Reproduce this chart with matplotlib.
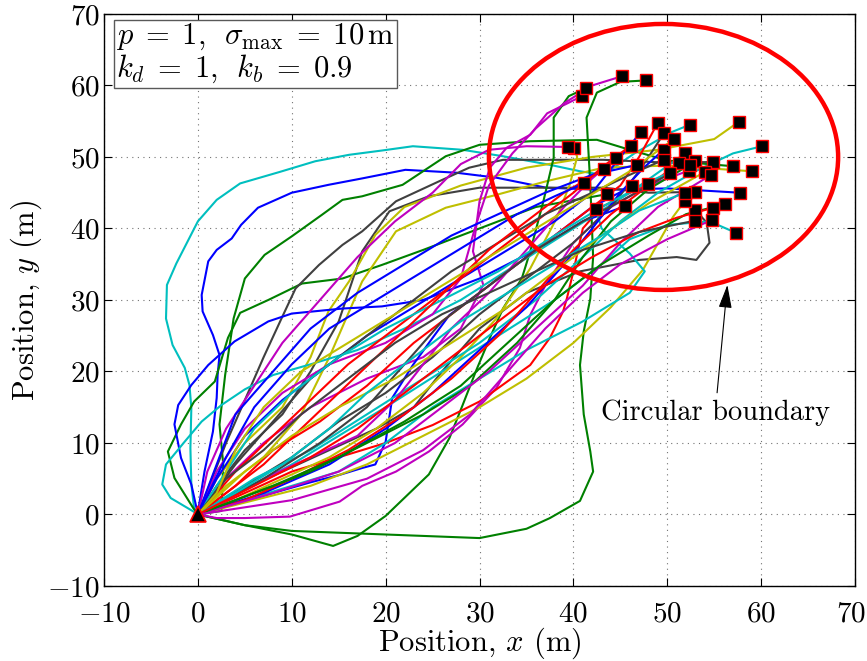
import matplotlib
matplotlib.use("Agg")
import matplotlib.pyplot as plt
import matplotlib.transforms as mtransforms
from matplotlib.patches import Circle

plt.rcParams["font.family"] = "serif"
plt.rcParams["font.serif"] = ["cmr10", "DejaVu Serif"]
plt.rcParams["mathtext.fontset"] = "cm"
plt.rcParams["axes.formatter.use_mathtext"] = True

# MATLAB-style line colours
B = (0, 0, 1)
G = (0, 0.5, 0)
R = (1, 0, 0)
C = (0, 0.75, 0.75)
M = (0.75, 0, 0.75)
Y = (0.75, 0.75, 0)
K = (0.25, 0.25, 0.25)

# Agent trajectories (x, y) in metres, all starting at the launch point
path_01 = [(0, 0), (-0.4, 0.8), (-0.7, 4.2), (-0.8, 9.3), (-0.7, 14.9), (-0.9, 18.1), (-1.4, 20.5), (-2.7, 23.7),
           (-3.4, 27.4), (-3.3, 32.1), (-2.3, 35.1), (0, 41), (2, 44), (4.5, 46.3), (8.7, 47.9), (12.5, 49.4),
           (16.1, 50.3), (19.6, 50.9), (22.9, 51.5), (28.2, 51), (32.5, 50.1), (37.5, 48.9), (40.7, 48),
           (43.2, 47.5), (46.5, 50.5), (50.5, 53.5), (52.4, 54.5)]
path_02 = [(0, 0), (0, 0.3), (0.7, 6), (1.6, 11.6), (2, 16.3), (2.1, 19.5), (2.3, 22.3), (1.6, 25.1), (0.5, 28.4),
           (0.4, 30.7), (1.1, 35.4), (2, 37), (3.6, 38.6), (4.6, 40.5), (6.4, 42.9), (10, 45), (13.9, 46.1),
           (17.5, 47), (22.1, 48.2), (27.5, 47.8), (31.8, 47.1), (37.1, 45.7), (43.2, 45.4), (50, 45.6), (57.7, 45.0)]
path_03 = [(0, 0), (-0.5, 0.9), (-2.5, 5.1), (-3.2, 8.8), (-1.8, 12.6), (-0.4, 15.8), (1.8, 18.6), (3.2, 24.7),
           (4.5, 28.2), (7.5, 30), (11.1, 32.3), (15.4, 33), (19.6, 34.9), (24, 37), (30, 40), (36, 43), (43.6, 44.8)]
path_04 = [(0, 0), (2.5, 0.5), (2.7, 7), (2.3, 12.6), (2.9, 19.5), (3.6, 25.6), (3.8, 27.4), (5, 33), (7.1, 36.3),
           (10, 38.9), (13.2, 41.9), (15.4, 44), (17.5, 44.5), (21.8, 46.1), (26.4, 50.1), (30, 51.7),
           (35.4, 52.2), (42.5, 52.4), (46, 51), (50, 49.5), (57.0, 48.7)]
path_05 = [(0, 0), (1.5, 5), (3, 10), (5, 16), (7, 22), (8.9, 27.4), (10.4, 31.6), (12.9, 34.9), (15.4, 37.7),
           (17.5, 39.6), (21.1, 43.8), (25.7, 46.6), (28.9, 48.5), (32.5, 49.6), (43.2, 49.6), (50, 49.2), (54.9, 49.3)]
path_06 = [(0, 0), (2, 4), (5, 9), (9, 14), (12, 20), (15, 27), (17.5, 36.8), (20.4, 42.4), (24.6, 44.5),
           (30, 45.7), (35.4, 45.7), (43.2, 45.7), (48, 45), (52.9, 45.1)]
path_07 = [(0, 0), (2, 5), (5, 10), (9, 15), (12, 22), (13.9, 28.4), (16.1, 32.6), (18.9, 39.1), (22, 43),
           (28, 46), (35, 48.5), (42, 50), (49, 51), (55, 52.5), (57.6, 54.9)]
path_08 = [(0, 0), (3, 4), (7, 8), (11, 14), (14, 22), (17.5, 32.6), (21.1, 39.6), (26.4, 42.9), (31.8, 44.7),
           (37.1, 46.6), (43.2, 48.5), (50, 48.8), (59.0, 48.0)]
path_09 = [(0, 0), (3, 5), (7, 10), (12, 15), (18, 19), (24, 22), (28, 26), (30.4, 32.1), (29.3, 36.8),
           (30, 43.8), (31.1, 48.5), (32.9, 51.3), (35.4, 53.1), (37.2, 56.1), (40.9, 58.5)]
path_10 = [(0, 0), (5, -1.5), (10, -2.8), (14.4, -4.4), (17, -3), (20, -0.2), (24.6, 5.6), (26.8, 10.7),
           (28.2, 15.3), (29.6, 20), (31.1, 24.7), (32.5, 28.8), (34.5, 33), (35.4, 36.8), (36.8, 43.8),
           (37.9, 49.9), (37.9, 55.5), (39.5, 58.5), (41.3, 59.6)]
path_11 = [(0, 0), (5, -1.5), (10, -2.3), (20, -2.8), (30, -3.3), (35, -2), (37.5, -0.5), (40.7, 1.9), (42.1, 6),
           (41.8, 8.8), (41.1, 14), (40.7, 20.9), (41.1, 25.6), (41.8, 30.2), (42.1, 36), (41.8, 46.1),
           (41.4, 55.5), (42.5, 59), (45, 60.5), (47.7, 60.7)]
path_12 = [(0, 0), (2, -0.5), (5, -0.5), (9.8, -0.3), (15.1, 1.8), (17.5, 4), (21.1, 6), (24.6, 8.8), (28.2, 12.6),
           (31.8, 17.7), (34.3, 23.3), (35.4, 27.9), (37, 32), (40, 38), (44, 43), (48, 46), (52.3, 48.1)]
path_13 = [(0, 0), (5, 3), (10, 6), (15, 8), (20, 10), (25, 12.5), (30, 15.8), (35.4, 20.9), (37.5, 24.7),
           (38.9, 28.4), (39.3, 30.2), (40, 34), (41, 40), (43, 43), (47.9, 46.2)]
path_14 = [(0, 0), (4, 1.5), (8, 3), (12, 4.5), (15, 5.5), (17.5, 6.5), (18.9, 7), (20, 10.2), (20.7, 16.3),
           (22.9, 20.9), (25, 24.7), (26.8, 27.9), (30, 31), (34, 35), (38, 39), (42, 43), (46.2, 45.9)]
path_15 = [(0, 0), (-0.7, 4.2), (-1.8, 7.9), (-2.5, 12.6), (-2.1, 15.3), (-0.7, 18.1), (1.1, 20.9), (3.9, 24.2),
           (7.5, 27), (10, 28.1), (15.4, 28.8), (19.6, 29.1), (24, 30), (30, 33), (36, 37), (41, 41), (45.5, 43.1)]
path_16 = [(0, 0), (-0.2, 0.2), (-2.9, 2.3), (-3.8, 4.2), (-3.4, 7), (-1.4, 10.2), (0.4, 13), (2.5, 15.3),
           (5, 17.5), (8, 19.5), (12, 21), (17, 23), (22, 26), (28, 30), (34, 35), (40, 40), (46, 45), (51.9, 50.5)]
path_17 = [(0, 0), (4, 3), (9, 6), (14, 9), (19, 12), (23, 15), (26, 20), (30, 26), (35, 31), (40.7, 34),
           (47, 35.6), (51, 36), (53.1, 35.6), (54.5, 38), (54.2, 40.8), (53.0, 42.6)]
path_18 = [(0, 0), (6, 2), (12, 4), (18, 7), (24, 11), (30, 15), (35, 19), (40, 24), (44, 29), (47.4, 34.2),
           (50.6, 41.6), (51.9, 43.9)]
path_19 = [(0, 0), (5, 3.5), (10, 7), (15, 11), (20, 15), (26, 20), (32, 25), (38, 30), (43, 35), (46, 38.5),
           (50, 40.5), (54.5, 41), (57.3, 39.4)]
path_20 = [(0, 0), (5, 2), (10, 4), (15, 6), (20, 10), (25, 15), (30, 19), (35, 23), (41, 27), (46, 31),
           (47.6, 34), (46, 36.5), (43, 40), (42.4, 42.7)]
path_21 = [(0, 0), (4, 2), (9, 5), (14, 8), (19, 12), (24, 17), (28, 22), (31.8, 27.4), (35.4, 34.4),
           (38.2, 41.4), (39.6, 46.1), (40.4, 50), (40.1, 51.2)]
path_22 = [(0, 0), (2, 6), (5, 12), (9, 17), (14, 21), (20, 24), (25, 28), (28, 33), (29.5, 40), (31, 46),
           (33.5, 50.5), (36, 54), (39, 57.5), (42, 60), (45.2, 61.3)]
path_23 = [(0, 0), (4, 4), (8, 9), (13, 13), (18, 18), (23, 24), (28, 29), (33, 34), (38, 39), (42, 43),
           (45, 46), (47, 50), (49.0, 54.8)]
path_24 = [(0, 0), (2, 5), (5, 11), (9, 16), (13, 20), (18, 25), (23, 29), (28, 33), (33, 37), (38, 41),
           (42, 45), (45, 50), (47.2, 53.5)]
path_25 = [(0, 0), (5, 4), (10, 8), (15, 13), (20, 17), (25, 22), (30, 28), (35, 33), (40, 38), (44, 43),
           (47, 48), (49.7, 53.4)]
path_26 = [(0, 0), (6, 5), (12, 9), (18, 14), (24, 19), (30, 24), (36, 30), (41, 36), (45, 41), (49, 45),
           (53, 48), (57, 50.5), (60.1, 51.5)]
path_27 = [(0, 0), (1, 6), (3, 12), (6, 18), (9, 24), (13, 30), (17, 36), (21, 41), (25, 45), (28, 49),
           (31, 51), (35, 51.5), (39.4, 51.4)]
path_28 = [(0, 0), (4, 6), (8, 11), (12, 16), (16, 21), (21, 26), (26, 31), (31, 36), (36, 41), (40, 45),
           (43, 48.5), (46.1, 51.6)]
path_29 = [(0, 0), (7, 3), (14, 7), (20, 12), (25, 17), (30, 23), (35, 29), (39, 35), (42, 40), (45, 45),
           (47.5, 48.5), (49.6, 51.0)]
path_30 = [(0, 0), (3, 2), (7, 5), (12, 8), (17, 11), (21, 16), (24, 21), (27, 26), (31, 31), (35, 37),
           (39, 43), (42, 47), (44.5, 49.8)]
path_31 = [(0, 0), (4, 7), (8, 13), (12, 19), (17, 24), (22, 29), (27, 34), (32, 38), (37, 42), (42, 45),
           (46, 47.5), (49.6, 49.6)]
path_32 = [(0, 0), (5, 2), (10, 5), (16, 9), (22, 14), (27, 19), (32, 25), (36, 31), (40, 37), (44, 42),
           (48, 46), (51.2, 49.1)]
path_33 = [(0, 0), (3, 6), (6, 12), (10, 17), (15, 22), (20, 26), (26, 30), (32, 34), (38, 39), (43, 43),
           (48, 46.5), (52.9, 49.4)]
path_34 = [(0, 0), (6, 3), (12, 6), (18, 10), (24, 14), (29, 18), (34, 24), (38, 30), (41, 36), (44, 41),
           (48, 45.5), (52.4, 48.9)]
path_35 = [(0, 0), (2, 7), (4, 14), (8, 20), (12, 26), (17, 31), (22, 35), (27, 39), (32, 42), (37, 45),
           (42, 47.5), (46.8, 48.9)]
path_36 = [(0, 0), (3, 3), (7, 7), (11, 12), (15, 17), (19, 22), (23, 27), (27, 32), (31, 37), (35, 41),
           (39, 45), (43.3, 48.3)]
path_37 = [(0, 0), (7, 5), (13, 10), (18, 15), (22, 21), (26, 27), (31, 32), (36, 37), (41, 41), (46, 44.5),
           (50.3, 47.7)]
path_38 = [(0, 0), (5, 6), (10, 11), (15, 15), (21, 19), (27, 24), (33, 29), (38, 34), (43, 39), (48, 43.5),
           (54.0, 47.9)]
path_39 = [(0, 0), (8, 3), (15, 6), (21, 10), (26, 15), (31, 20), (36, 26), (41, 32), (45, 38), (49, 43),
           (54.7, 47.5)]
path_40 = [(0, 0), (3, 8), (6, 15), (10, 21), (14, 26), (19, 30), (24, 34), (29, 38), (34, 42), (38, 44.5),
           (41.1, 46.3)]
path_41 = [(0, 0), (4, 3), (9, 7), (14, 12), (18, 17), (23, 22), (28, 27), (33, 31), (38, 35), (43, 39),
           (47, 42.5), (51.9, 45.0)]
path_42 = [(0, 0), (8, 4), (15, 8), (22, 13), (28, 18), (33, 24), (38, 30), (43, 35), (48, 39), (52, 42),
           (56.1, 43.4)]
path_43 = [(0, 0), (6, 4), (12, 8), (17, 12), (22, 17), (27, 22), (32, 27), (37, 32), (42, 36), (47, 39.5),
           (51, 41.5), (54.9, 42.9)]
path_44 = [(0, 0), (3, 5), (7, 9), (11, 14), (16, 19), (21, 24), (26, 28), (31, 31), (36, 34), (41, 37),
           (47, 39.5), (53.0, 41.1)]
path_45 = [(0, 0), (10, 2), (18, 5), (24, 9), (29, 14), (33, 20), (37, 26), (41, 31), (45, 35), (50, 38.5),
           (54.8, 41.2)]
path_46 = [(0, 0), (2, 3), (4, 9), (7, 15), (11, 20), (16, 24), (21, 28), (26, 32), (31, 36), (36, 40),
           (41, 44), (46, 48), (50.7, 52.5)]

paths = [path_01, path_02, path_03, path_04, path_05, path_06, path_07, path_08, path_09, path_10,
         path_11, path_12, path_13, path_14, path_15, path_16, path_17, path_18, path_19, path_20,
         path_21, path_22, path_23, path_24, path_25, path_26, path_27, path_28, path_29, path_30,
         path_31, path_32, path_33, path_34, path_35, path_36, path_37, path_38, path_39, path_40,
         path_41, path_42, path_43, path_44, path_45, path_46]
path_colors = [C, B, G, G, K, K, Y, Y, M, G,
               G, M, R, B, B, C, K, Y, C, C,
               Y, M, R, B, K, C, M, R, B, M,
               K, R, C, G, B, R, K, Y, M, B,
               C, G, R, K, M, Y]

start = (0, 0)
boundary_center = (49.6, 50.0)
boundary_radius = 18.6
params_text = ("$p\\;=\\;1,\\ \\,\\sigma_{\\max}\\;=\\;10\\,\\mathrm{m}$\n"
               "$k_d\\;=\\;1,\\ \\,k_b\\;=\\;0.9$")

fig = plt.figure(figsize=(8.67, 6.61), dpi=100)
ax = fig.add_axes([0.120, 0.1135, 0.8662, 0.8654])

for pts, col in zip(paths, path_colors):
    xs = [p[0] for p in pts]
    ys = [p[1] for p in pts]
    ax.plot(xs, ys, color=col, lw=1.5, zorder=2)

ax.add_patch(Circle(boundary_center, boundary_radius, fill=False, ec="red", lw=3.2, zorder=3))

for pts in paths:
    ax.plot(pts[-1][0], pts[-1][1], marker="s", ms=9, mfc="black", mec="red", mew=1.0, zorder=4)
ax.plot(start[0], start[1], marker="^", ms=11, mfc="black", mec="red", mew=1.2, zorder=5)

ax.set_xlim(-10, 70)
ax.set_ylim(-10, 70)
ax.set_xticks(range(-10, 71, 10))
ax.set_yticks(range(-10, 71, 10))
ax.tick_params(direction="in", top=True, right=True, length=6, labelsize=21)
ax.tick_params(axis="x", pad=11)
ax.tick_params(axis="y", pad=3)
ax.grid(True, color="0.45", linestyle=(0, (1, 4)), linewidth=0.8)
for s in ax.spines.values():
    s.set_linewidth(1.0)

# keep the last x tick label inside the figure edge
last_label = ax.get_xticklabels()[-1]
last_label.set_horizontalalignment("right")
last_label.set_transform(last_label.get_transform()
                         + mtransforms.ScaledTranslation(11 / 100, 0, fig.dpi_scale_trans))

ax.set_xlabel("Position, $x$ (m)", fontsize=22, labelpad=-1.5)
ax.set_ylabel("Position, $y$ (m)", fontsize=22, labelpad=2)

ax.text(0.016, 0.986, params_text, transform=ax.transAxes, ha="left", va="top", fontsize=22,
        linespacing=1.02, zorder=6,
        bbox=dict(boxstyle="square,pad=0.08", fc="white", ec="0.35", lw=1.0))

ax.annotate("Circular boundary", xy=(56.4, 32.1), xytext=(55.1, 14.2), ha="center", va="center",
            fontsize=20.5, zorder=6,
            arrowprops=dict(arrowstyle="-|>,head_length=0.7,head_width=0.2", color="black", lw=0.8,
                            shrinkA=3, shrinkB=0))

fig.savefig("out.png", dpi=100)
